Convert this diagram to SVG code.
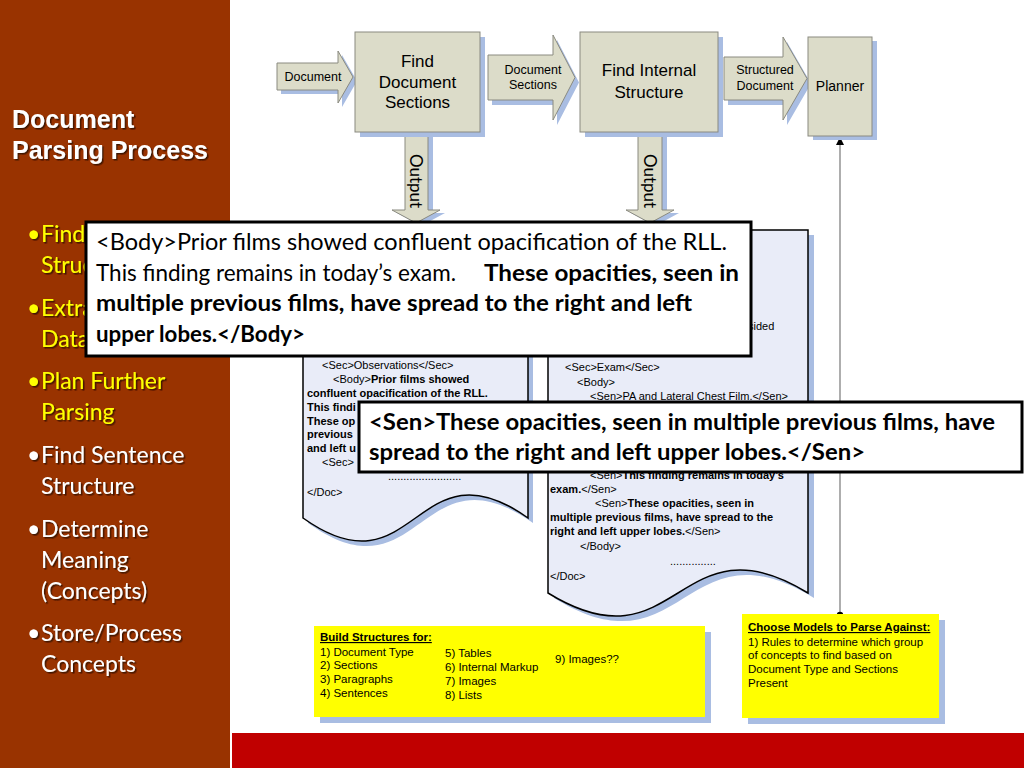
<svg xmlns="http://www.w3.org/2000/svg" width="1024" height="768" viewBox="0 0 1024 768">
<defs>
<style>
.flow{fill:#DCDCC9;stroke:#8A8A80;stroke-width:1}
.shd{fill:#A9BDE2}
.lbl{font-family:"Liberation Sans",Arial,sans-serif;fill:#000;text-anchor:middle}
.doc{fill:#E9ECF8;stroke:#000;stroke-width:1.5}
.dt{font-family:"Liberation Sans",Arial,sans-serif;font-size:11px;fill:#000}
.b{font-weight:bold}
.yel{fill:#FFFF00}
.yt{font-family:"Liberation Sans",Arial,sans-serif;font-size:11.5px;fill:#000}
.big{font-family:Lato,"Open Sans",sans-serif;font-size:23px;fill:#000}
.callout{fill:#FFFFFF;stroke:#000;stroke-width:3}
.side{font-family:Lato,"Open Sans",sans-serif;font-size:23px}
.sy{fill:#FFFF00}
.sw{fill:#FFFFFF}
.out{font-family:Lato,"Open Sans",sans-serif;font-size:17px;fill:#000;text-anchor:middle}
</style>
<filter id="ts" x="-10%" y="-10%" width="130%" height="140%"><feDropShadow dx="1.5" dy="1.5" stdDeviation="0.7" flood-color="#2a0c00" flood-opacity="0.8"/></filter>
<marker id="ah" viewBox="0 0 10 10" refX="10" refY="5" markerWidth="8" markerHeight="8" markerUnits="userSpaceOnUse" orient="auto">
<path d="M0,0 L10,5 L0,10 Z" fill="#000"/>
</marker>
</defs>

<rect x="0" y="0" width="1024" height="768" fill="#FFFFFF"/>

<g id="sidebar">
<rect x="0" y="0" width="230" height="768" fill="#993300"/>
<text font-family="'Liberation Sans',Arial,sans-serif" font-size="25px" font-weight="bold" fill="#FFFFFF" filter="url(#ts)"><tspan x="12" y="128">Document</tspan><tspan x="12" y="159">Parsing Process</tspan></text>
<g class="side" filter="url(#ts)">
<text class="sy"><tspan x="27" y="242">•</tspan><tspan x="41" y="242">Find</tspan><tspan x="41" y="273">Struc</tspan></text>
<text class="sy"><tspan x="27" y="316">•</tspan><tspan x="41" y="316">Extra</tspan><tspan x="41" y="347">Data</tspan></text>
<text class="sy"><tspan x="27" y="389">•</tspan><tspan x="41" y="389">Plan Further</tspan><tspan x="41" y="420">Parsing</tspan></text>
<text class="sw"><tspan x="27" y="463">•</tspan><tspan x="41" y="463">Find Sentence</tspan><tspan x="41" y="494">Structure</tspan></text>
<text class="sw"><tspan x="27" y="537">•</tspan><tspan x="41" y="537">Determine</tspan><tspan x="41" y="568">Meaning</tspan><tspan x="41" y="599">(Concepts)</tspan></text>
<text class="sw"><tspan x="27" y="641">•</tspan><tspan x="41" y="641">Store/Process</tspan><tspan x="41" y="672">Concepts</tspan></text>
</g>
</g>

<rect x="232" y="733" width="792" height="35" fill="#C00000"/>

<g id="connectors">
<g id="arrow-document">
<path class="shd" transform="translate(4,4)" d="M277,63 H338 V51 L353,77 L338,103 V90 H277 Z"/>
<path class="flow" d="M277,63 H338 V51 L353,77 L338,103 V90 H277 Z"/>
<text class="lbl" font-size="12.5px" x="313" y="81">Document</text>
</g>
<g id="arrow-document-sections">
<path class="shd" transform="translate(4,5)" d="M488,55 H553 V35 L575,77.5 L553,120 V100 H488 Z"/>
<path class="flow" d="M488,55 H553 V35 L575,77.5 L553,120 V100 H488 Z"/>
<text class="lbl" font-size="12.5px"><tspan x="533" y="74">Document</tspan><tspan x="533" y="89">Sections</tspan></text>
</g>
<g id="arrow-structured-document">
<path class="shd" transform="translate(4,5)" d="M724,57 H783 V37 L807,78.5 L783,120 V100 H724 Z"/>
<path class="flow" d="M724,57 H783 V37 L807,78.5 L783,120 V100 H724 Z"/>
<text class="lbl" font-size="12.5px"><tspan x="765" y="74">Structured</tspan><tspan x="765" y="90">Document</tspan></text>
</g>
<g id="arrow-output-1">
<path class="shd" transform="translate(5,3)" d="M405,132 H428 V210 H440 L416,223 L392,210 H405 Z"/>
<path class="flow" d="M405,132 H428 V210 H440 L416,223 L392,210 H405 Z"/>
<text class="out" transform="translate(416,181) rotate(90)" dy="6">Output</text>
</g>
<g id="arrow-output-2">
<path class="shd" transform="translate(5,3)" d="M638,132 H662 V210 H674 L650,223 L626,210 H638 Z"/>
<path class="flow" d="M638,132 H662 V210 H674 L650,223 L626,210 H638 Z"/>
<text class="out" transform="translate(650,181) rotate(90)" dy="6">Output</text>
</g>
<g id="planner-link">
<line x1="840" y1="615" x2="840" y2="137" stroke="#777777" stroke-width="1.2" marker-end="url(#ah)"/>
<circle cx="840" cy="615" r="3.2" fill="#000"/>
</g>
</g>

<g id="find-document-sections">
<rect class="shd" x="360" y="37" width="125" height="100"/>
<rect class="flow" x="355" y="32" width="125" height="100"/>
<text class="lbl" font-size="17px"><tspan x="417.5" y="67">Find</tspan><tspan x="417.5" y="88">Document</tspan><tspan x="417.5" y="108">Sections</tspan></text>
</g>

<g id="find-internal-structure">
<rect class="shd" x="585" y="37" width="138" height="100"/>
<rect class="flow" x="580" y="32" width="138" height="100"/>
<text class="lbl" font-size="17px"><tspan x="649" y="76">Find Internal</tspan><tspan x="649" y="98">Structure</tspan></text>
</g>

<g id="planner">
<rect class="shd" x="813" y="41" width="64" height="99"/>
<rect class="flow" x="808" y="37" width="64" height="99"/>
<text class="lbl" font-size="14px" x="840" y="91">Planner</text>
</g>

<g id="doc-sections">
<path class="shd" transform="translate(5,5)" d="M303,240 H528 V518 C415.5,438 415.5,598 303,518 Z"/>
<path class="doc" d="M303,240 H528 V518 C415.5,438 415.5,598 303,518 Z"/>
<text class="dt" x="322" y="369">&lt;Sec&gt;Observations&lt;/Sec&gt;</text>
<text class="dt" x="333" y="383">&lt;Body&gt;<tspan class="b">Prior films showed</tspan></text>
<text class="dt b" x="307" y="397">confluent opacification of the RLL.</text>
<text class="dt b" x="307" y="411">This findi</text>
<text class="dt b" x="307" y="425">These op</text>
<text class="dt b" x="307" y="438">previous</text>
<text class="dt b" x="307" y="452">and left u</text>
<text class="dt" x="322" y="466">&lt;Sec&gt;</text>
<text class="dt" x="388" y="480">........................</text>
<text class="dt" x="307" y="496">&lt;/Doc&gt;</text>
</g>

<g id="doc-structure">
<path class="shd" transform="translate(6,5)" d="M548,230 H808 V593 C678,513 678,673 548,593 Z"/>
<path class="doc" d="M548,230 H808 V593 C678,513 678,673 548,593 Z"/>
<text class="dt" x="748" y="330">sided</text>
<text class="dt" x="565" y="371">&lt;Sec&gt;Exam&lt;/Sec&gt;</text>
<text class="dt" x="577" y="386">&lt;Body&gt;</text>
<text class="dt" x="590" y="400">&lt;Sen&gt;PA and Lateral Chest Film.&lt;/Sen&gt;</text>
<text class="dt" x="590" y="479">&lt;Sen&gt;<tspan class="b">This finding remains in today’s</tspan></text>
<text class="dt" x="550" y="493"><tspan class="b">exam.</tspan>&lt;/Sen&gt;</text>
<text class="dt" x="595" y="507">&lt;Sen&gt;<tspan class="b">These opacities, seen in</tspan></text>
<text class="dt b" x="550" y="521">multiple previous films, have spread to the</text>
<text class="dt" x="550" y="535"><tspan class="b">right and left upper lobes.</tspan>&lt;/Sen&gt;</text>
<text class="dt" x="580" y="550">&lt;/Body&gt;</text>
<text class="dt" x="670" y="565">...............</text>
<text class="dt" x="550" y="580">&lt;/Doc&gt;</text>
</g>

<g id="build-structures">
<rect class="shd" x="320" y="632" width="391" height="91"/>
<rect class="yel" x="314" y="626" width="391" height="91"/>
<text class="yt b" x="320" y="641" text-decoration="underline">Build Structures for:</text>
<text class="yt"><tspan x="320" y="656">1) Document Type</tspan><tspan x="320" y="669">2) Sections</tspan><tspan x="320" y="683">3) Paragraphs</tspan><tspan x="320" y="697">4) Sentences</tspan></text>
<text class="yt"><tspan x="445" y="657">5) Tables</tspan><tspan x="445" y="671">6) Internal Markup</tspan><tspan x="445" y="685">7) Images</tspan><tspan x="445" y="699">8) Lists</tspan></text>
<text class="yt" x="555" y="663">9) Images??</text>
</g>

<g id="choose-models">
<rect class="shd" x="748" y="620" width="197" height="104"/>
<rect class="yel" x="742" y="614" width="197" height="104"/>
<text class="yt b" x="748" y="631" text-decoration="underline">Choose Models to Parse Against:</text>
<text class="yt"><tspan x="748" y="646">1) Rules to determine which group</tspan><tspan x="748" y="659">of concepts to find based on</tspan><tspan x="748" y="673">Document Type and Sections</tspan><tspan x="748" y="687">Present</tspan></text>
</g>

<g id="body-callout">
<rect class="callout" x="86" y="222" width="665" height="134"/>
<text class="big" x="96" y="250" textLength="631" lengthAdjust="spacingAndGlyphs">&lt;Body&gt;Prior films showed confluent opacification of the RLL.</text>
<text class="big" x="96" y="281" textLength="360" lengthAdjust="spacingAndGlyphs">This finding remains in today’s exam.</text>
<text class="big b" x="484" y="281" textLength="255" lengthAdjust="spacingAndGlyphs">These opacities, seen in</text>
<text class="big b" x="96" y="311" textLength="596" lengthAdjust="spacingAndGlyphs">multiple previous films, have spread to the right and left</text>
<text class="big b" x="96" y="342" textLength="209" lengthAdjust="spacingAndGlyphs">upper lobes.&lt;/Body&gt;</text>
</g>

<g id="sen-callout">
<rect class="callout" x="359" y="402" width="663" height="70"/>
<text class="big b" x="369" y="430" textLength="626" lengthAdjust="spacingAndGlyphs">&lt;Sen&gt;These opacities, seen in multiple previous films, have</text>
<text class="big b" x="369" y="460" textLength="496" lengthAdjust="spacingAndGlyphs">spread to the right and left upper lobes.&lt;/Sen&gt;</text>
</g>
</svg>
